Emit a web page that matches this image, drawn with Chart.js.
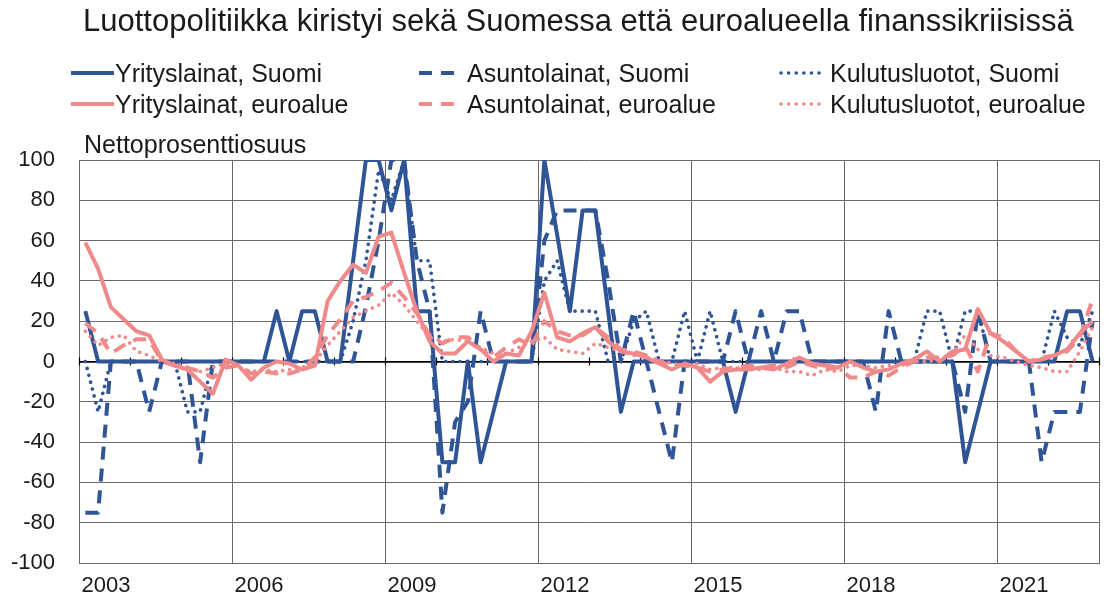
<!DOCTYPE html>
<html><head><meta charset="utf-8">
<script src="https://cdn.jsdelivr.net/npm/chart.js@4"></script>
<style>
html,body{margin:0;padding:0;background:#fff;}
body{width:1109px;height:608px;position:relative;overflow:hidden;font-family:"Liberation Sans",Arial,sans-serif;color:#1a1a1a;}
canvas{position:absolute;left:0;top:0;}
#title{position:absolute;left:83px;top:3px;font-size:31px;white-space:nowrap;line-height:36px;}
.lg-text{position:absolute;font-size:25px;white-space:nowrap;line-height:30px;}
.lg-svg{position:absolute;}
#ylab{position:absolute;left:84px;top:130px;font-size:25px;line-height:29px;white-space:nowrap;}
</style></head><body>
<canvas id="c" width="1109" height="608"></canvas>
<div id="title">Luottopolitiikka kiristyi sekä Suomessa että euroalueella finanssikriisissä</div>
<div id="legend"></div>
<div id="ylab">Nettoprosenttiosuus</div>
<script>
// ---- data ----
const startYear = 2003;
const tickYears = [2003, 2006, 2009, 2012, 2015, 2018, 2021];
const quarters = [];
for (let y = 2003; y <= 2022; y++) for (let q = 1; q <= 4; q++) quarters.push(y + 'Q' + q);

const seriesLabels = [
  'Yrityslainat, Suomi', 'Asuntolainat, Suomi', 'Kulutusluotot, Suomi',
  'Yrityslainat, euroalue', 'Asuntolainat, euroalue', 'Kulutusluotot, euroalue'
];

const yritysSuomi = [
  25, 0, 0, 0,   0, 0, 0, 0,   0, 0, 0, 0,   0, 0, 0, 25,
  0, 25, 25, 0,  0, 50, 100, 100,  75, 100, 25, 25,  -50, -50, 0, -50,
  -25, 0, 0, 0,  100, 63, 25, 75,  75, 25, -25, 0,  0, 0, 0, 0,
  0, 0, 0, -25,  0, 0, 0, 0,  0, 0, 0, 0,  0, 0, 0, 0,
  0, 0, 0, 0,  0, -50, -25, 0,  0, 0, 0, 0,  0, 25, 25, 0
];
const asuntoSuomi = [
  -75, -75, 0, 0,  0, -25, 0, 0,  0, -50, 0, 0,  0, 0, 0, 0,
  0, 0, 0, 0,  0, 0, 27, 60,  100, 100, 50, 25,  -75, -30, -20, 25,
  0, 0, 0, 0,  60, 75, 75, 75,  75, 40, 0, 25,  0, -25, -50, 0,
  0, 0, 0, 25,  0, 25, 0, 25,  25, 0, 0, 0,  0, 0, -25, 25,
  0, 0, 0, 0,  0, -25, 25, 0,  0, 0, 0, -50,  -25, -25, -25, 20
];
const kulutusSuomi = [
  0, -25, 0, 0,  0, 0, 0, 0,  -25, -25, 0, 0,  0, 0, 0, 0,
  0, 0, 0, 0,  0, 20, 50, 95,  80, 100, 50, 50,  0, 0, 0, 0,
  0, 0, 0, 0,  40, 50, 25, 25,  25, 0, 0, 20,  25, 0, 0, 25,
  0, 25, 0, 0,  0, 0, 0, 0,  0, 0, 0, 0,  0, 0, 0, 0,
  0, 0, 25, 25,  0, 25, 25, 0,  0, 0, 0, 0,  25, 12, 8, 25
];
const yritysEuro = [
  59, 46, 27, 21,  15, 13, 1, -2,  -4, -10, -16, 1,  -2, -9, -3, 0,
  -1, -4, -2, 30,  40, 48, 44, 62,  64, 44, 25, 10,  4, 4, 10, 6,
  0, 4, 3, 15,  34, 12, 10, 14,  17, 10, 5, 4,  2, -1, -4, -1,
  -3, -10, -5, -4,  -4, -3, -4, -1,  2, -1, -2, -3,  0, -3, -5, -4,
  -1, 1, 5, 0,  5, 6, 26, 14,  10, 5, 0, 1,  3, 6, 14, 20
];
const asuntoEuro = [
  19, 14, 4, 8,  11, 11, 0, -2,  -3, -5, -8, -3,  -2, -6, -5, -6,
  -6, -4, 2, 13,  21, 30, 32, 35,  39, 32, 24, 13,  9, 12, 12, 6,
  2, 7, 11, 8,  20, 15, 13, 13,  17, 12, 6, 5,  3, 0, -2, -2,
  -3, -5, -4, -3,  -2, -3, -2, -3,  0, -2, -4, -3,  -8, -8, -5, -7,
  -3, 0, 2, 2,  3, 8, -5, 14,  12, 5, 0, 2,  3, 5, 12, 31
];
const kulutusEuro = [
  15, 8, 12, 13,  5, 3, 0, -1,  -3, -5, -3, -1,  -3, -5, -4, -5,
  -4, -3, 0, 8,  15, 22, 25, 28,  34, 28, 20, 12,  10, 11, 10, 7,
  4, 4, 7, 10,  12, 6, 5, 4,  9, 7, 5, 3,  2, 1, -1, -2,
  -1, -4, -3, -3,  -4, -4, -3, -5,  -5, -7, -4, -5,  -2, -2, -3, -2,
  -2, 0, 0, 1,  4, 13, 6, 3,  2, 0, -2, -3,  -5, -5, 5, 17
];
const seriesValues = [yritysSuomi, asuntoSuomi, kulutusSuomi, yritysEuro, asuntoEuro, kulutusEuro];

// ---- styles ----
const BLUE = '#2F5597', PINK = '#F0898A';
const colors = [BLUE, BLUE, BLUE, PINK, PINK, PINK];
const DASH = [13, 9], DOT = [0.1, 7];
const dashes = [[], DASH, DOT, [], DASH, DOT];
const caps = ['butt', 'butt', 'round', 'butt', 'butt', 'round'];
const widths = [4, 4, 3.6, 4, 4, 3.6];
const GRID = '#6a6a6a';

Chart.defaults.font.family = "'Liberation Sans', Arial, sans-serif";
Chart.defaults.color = '#1a1a1a';

const datasets = seriesValues.map((vals, k) => ({
  label: seriesLabels[k],
  data: vals.map((v, i) => ({ x: i + 0.5, y: v })),
  borderColor: colors[k],
  backgroundColor: colors[k],
  borderWidth: widths[k],
  borderDash: dashes[k],
  borderCapStyle: caps[k],
  borderJoinStyle: 'round',
  pointRadius: 0,
  tension: 0,
  fill: false,
  order: 5 - k
}));

const gridValues = tickYears.map(y => (y - startYear) * 4).concat([quarters.length]);

const zeroTicks = {
  id: 'zeroTicks',
  beforeDatasetsDraw(chart) {
    const { ctx } = chart;
    const xs = chart.scales.x, ys = chart.scales.y;
    const y0 = ys.getPixelForValue(0);
    ctx.save();
    ctx.strokeStyle = '#000';
    ctx.lineWidth = 1.2;
    for (let v = 0; v <= quarters.length; v += 4) {
      const x = Math.round(xs.getPixelForValue(v)) + 0.5;
      ctx.beginPath();
      ctx.moveTo(x, y0 - 4);
      ctx.lineTo(x, y0 + 4);
      ctx.stroke();
    }
    ctx.restore();
  }
};

new Chart(document.getElementById('c'), {
  type: 'line',
  data: { datasets },
  options: {
    responsive: false,
    animation: false,
    devicePixelRatio: 1,
    layout: { padding: { top: 160, left: 0, right: 3, bottom: 0 } },
    plugins: { legend: { display: false }, tooltip: { enabled: false }, title: { display: false } },
    scales: {
      x: {
        type: 'linear',
        min: 0,
        max: quarters.length,
        afterBuildTicks: (scale) => { scale.ticks = gridValues.map(v => ({ value: v })); },
        afterFit: (scale) => { scale.height = 45; },
        grid: { color: GRID, lineWidth: 1, drawTicks: false },
        border: { color: GRID, width: 1 },
        ticks: {
          autoSkip: false,
          maxRotation: 0,
          padding: 10,
          labelOffset: 27,
          font: { size: 22 },
          callback: (value) => {
            const yr = startYear + value / 4;
            return tickYears.includes(yr) && value < quarters.length ? String(yr) : '';
          }
        }
      },
      y: {
        min: -100,
        max: 100,
        afterFit: (scale) => { scale.width = 79; },
        grid: {
          color: (c) => (c.tick && c.tick.value === 0 ? '#000' : GRID),
          lineWidth: (c) => (c.tick && c.tick.value === 0 ? 1.8 : 1),
          drawTicks: false
        },
        border: { color: GRID, width: 1 },
        ticks: { stepSize: 20, padding: 24, font: { size: 22 } }
      }
    }
  },
  plugins: [zeroTicks]
});

// ---- legend (HTML, built from dataset labels) ----
const legend = document.getElementById('legend');
const sampleX = [70, 418, 778], textX = [115, 467, 830], rowY = [73, 104];
const svgDash = ['', '13 9', '0.1 7.5'];
seriesLabels.forEach((lab, k) => {
  const col = k % 3, row = Math.floor(k / 3);
  const svgNS = 'http://www.w3.org/2000/svg';
  const svg = document.createElementNS(svgNS, 'svg');
  svg.setAttribute('width', '46'); svg.setAttribute('height', '10');
  svg.setAttribute('class', 'lg-svg');
  svg.style.left = sampleX[col] + 'px';
  svg.style.top = (rowY[row] - 5) + 'px';
  const ln = document.createElementNS(svgNS, 'line');
  ln.setAttribute('x1', col === 2 ? '3' : '1'); ln.setAttribute('x2', '44');
  ln.setAttribute('y1', '5'); ln.setAttribute('y2', '5');
  ln.setAttribute('stroke', colors[k]);
  ln.setAttribute('stroke-width', String(widths[k]));
  if (svgDash[col]) ln.setAttribute('stroke-dasharray', svgDash[col]);
  ln.setAttribute('stroke-linecap', col === 2 ? 'round' : 'butt');
  svg.appendChild(ln);
  legend.appendChild(svg);
  const t = document.createElement('div');
  t.className = 'lg-text';
  t.textContent = lab;
  t.style.left = textX[col] + 'px';
  t.style.top = (rowY[row] - 15) + 'px';
  legend.appendChild(t);
});
</script>
</body></html>
